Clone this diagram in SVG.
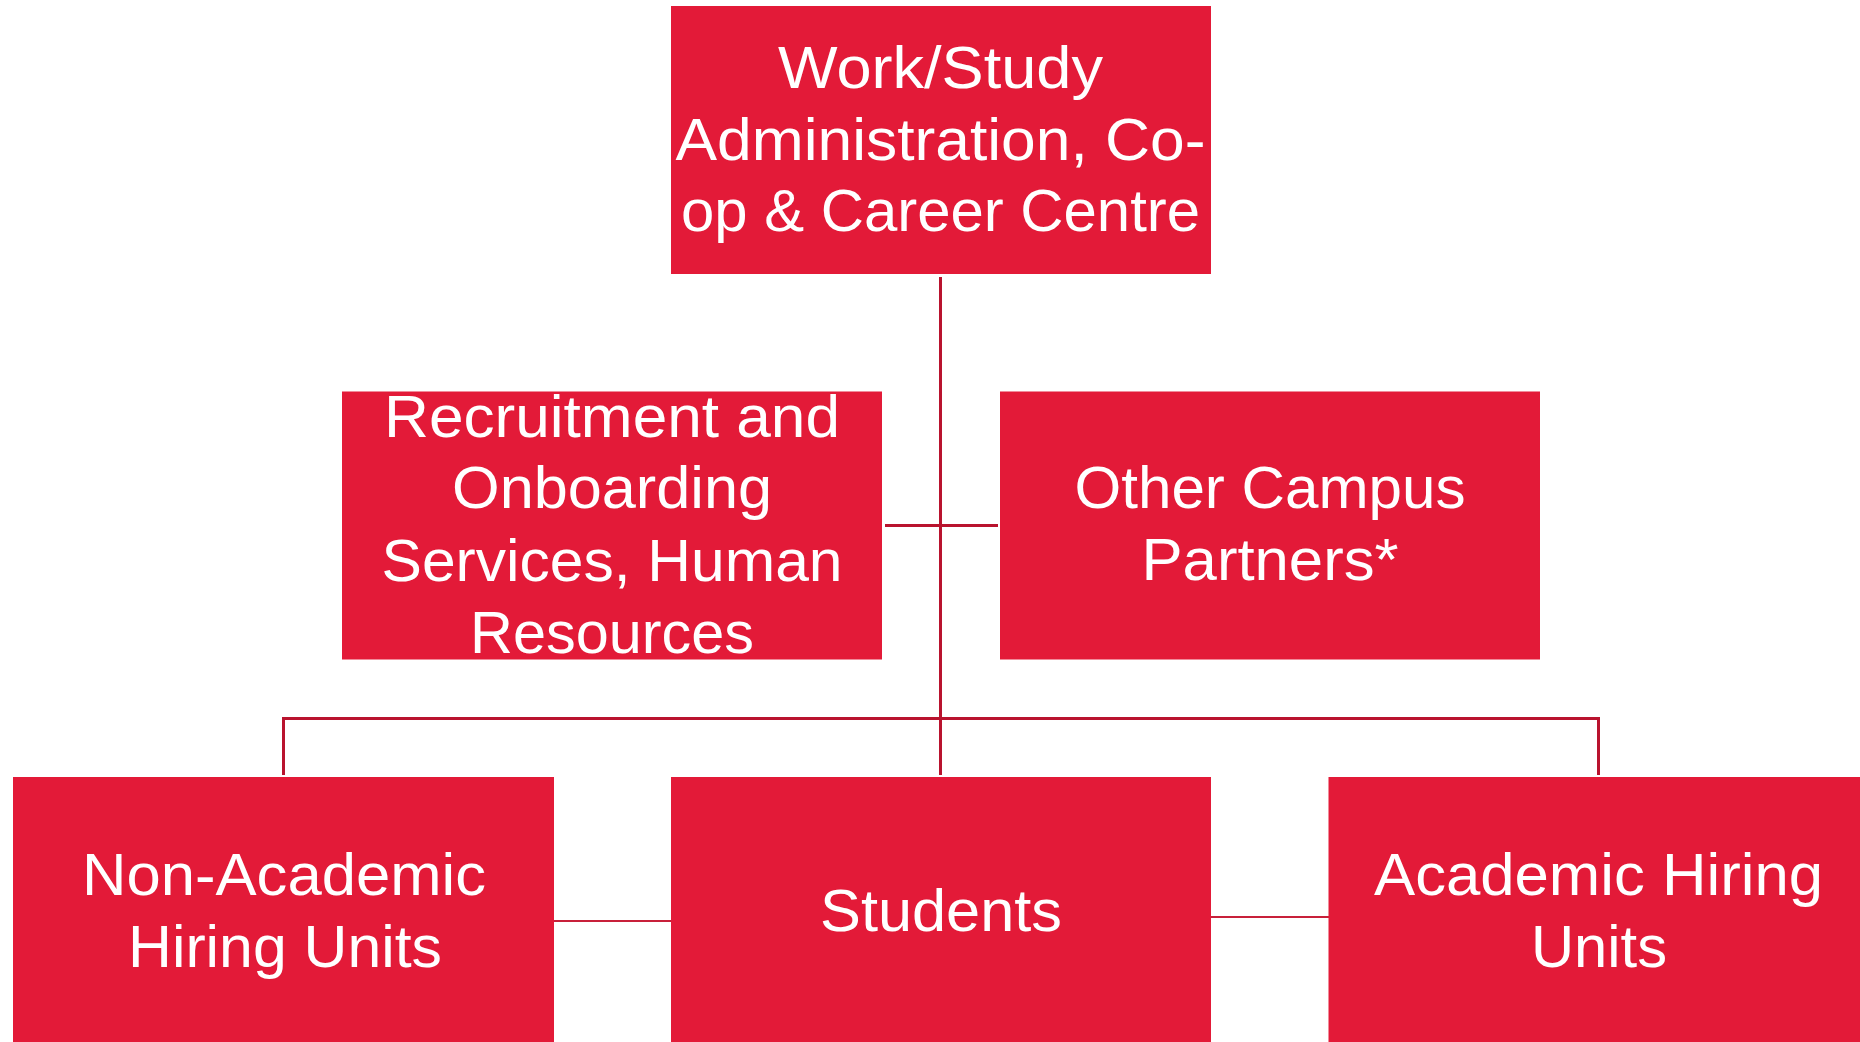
<svg xmlns="http://www.w3.org/2000/svg" width="1860" height="1042" viewBox="0 0 1860 1042">
<style>
.box{fill:#e31a38;}
.t{fill:#ffffff;font-family:"Liberation Sans",Arial,sans-serif;font-size:60px;text-anchor:middle;}
.n{fill:#ffffff;font-family:"Liberation Sans",Arial,sans-serif;font-size:59px;text-anchor:middle;}
.c{stroke:#b9132e;fill:none;stroke-width:3;}
.c2{stroke:#c8203a;fill:none;stroke-width:2;}
</style>
<rect width="1860" height="1042" fill="#ffffff"/>
<g id="connectors">
<line class="c" x1="940.5" y1="277" x2="940.5" y2="775"/>
<polyline class="c" points="283.5,775 283.5,718.5 1598.5,718.5 1598.5,775"/>
<line class="c" x1="885" y1="525.5" x2="998" y2="525.5"/>
<line class="c2" x1="554" y1="921" x2="671" y2="921"/>
<line class="c2" x1="1211" y1="917" x2="1329" y2="917"/>
</g>
<g id="node-workstudy">
<rect class="box" x="671" y="6" width="540" height="268"/>
<text class="t" x="940.5" y="88" textLength="325" lengthAdjust="spacingAndGlyphs">Work/Study</text>
<text class="t" x="940.5" y="160" textLength="530" lengthAdjust="spacingAndGlyphs">Administration, Co-</text>
<text class="t" x="940.5" y="231" textLength="519" lengthAdjust="spacingAndGlyphs">op &amp; Career Centre</text>
</g>
<g id="node-recruitment">
<rect class="box" x="342" y="391.5" width="540" height="268"/>
<text class="n" x="612" y="437" textLength="456" lengthAdjust="spacingAndGlyphs">Recruitment and</text>
<text class="n" x="612" y="508" textLength="320" lengthAdjust="spacingAndGlyphs">Onboarding</text>
<text class="n" x="612" y="581" textLength="461" lengthAdjust="spacingAndGlyphs">Services, Human</text>
<text class="n" x="612" y="653" textLength="284" lengthAdjust="spacingAndGlyphs">Resources</text>
</g>
<g id="node-partners">
<rect class="box" x="1000" y="391.5" width="540" height="268"/>
<text class="n" x="1270" y="508" textLength="391" lengthAdjust="spacingAndGlyphs">Other Campus</text>
<text class="n" x="1270" y="580" textLength="257" lengthAdjust="spacingAndGlyphs">Partners*</text>
</g>
<g id="node-nonacademic">
<rect class="box" x="13" y="777" width="541" height="270"/>
<text class="t" x="284" y="895" textLength="404" lengthAdjust="spacingAndGlyphs">Non-Academic</text>
<text class="t" x="285" y="966.5" textLength="314" lengthAdjust="spacingAndGlyphs">Hiring Units</text>
</g>
<g id="node-students">
<rect class="box" x="671" y="777" width="540" height="270"/>
<text class="t" x="941" y="930.5" textLength="242" lengthAdjust="spacingAndGlyphs">Students</text>
</g>
<g id="node-academic">
<rect class="box" x="1328.5" y="777" width="540" height="270"/>
<text class="t" x="1598.5" y="895" textLength="449" lengthAdjust="spacingAndGlyphs">Academic Hiring</text>
<text class="t" x="1599" y="966.5" textLength="136" lengthAdjust="spacingAndGlyphs">Units</text>
</g>
</svg>
